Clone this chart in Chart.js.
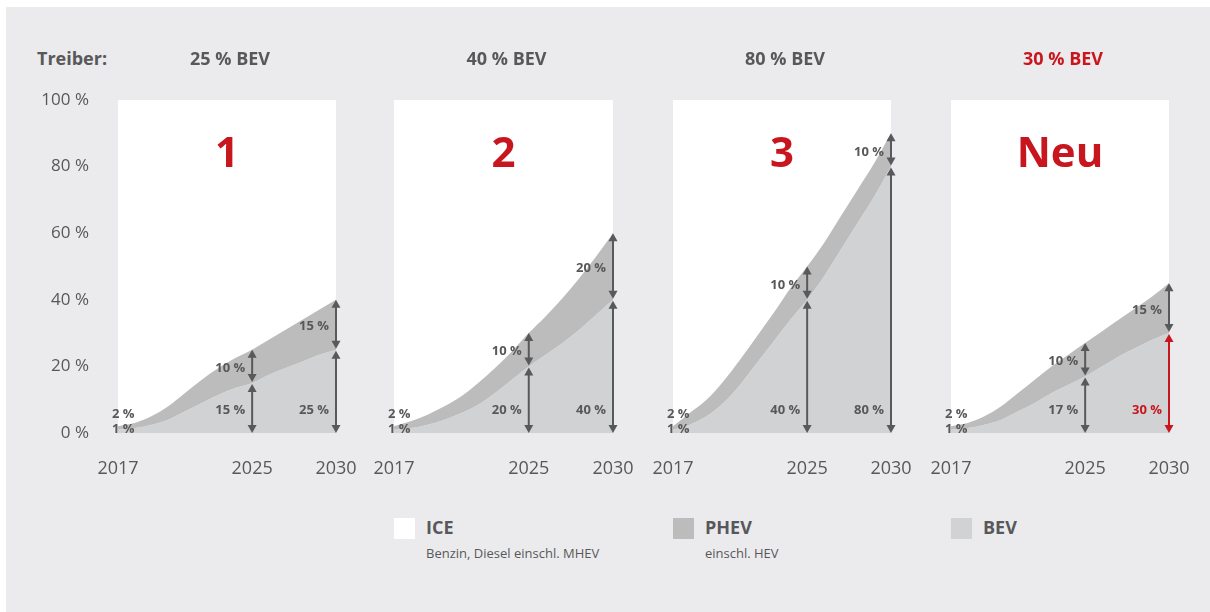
<!DOCTYPE html>
<html lang="de">
<head>
<meta charset="UTF-8">
<title>Szenarien BEV / PHEV / ICE</title>
<script src="https://cdn.jsdelivr.net/npm/chart.js"></script>
<style>
    body {
        margin: 0;
        width: 1210px;
        height: 612px;
        background: #fff;
        font-family: 'Open Sans', sans-serif;
        color: #58585a;
        position: relative;
        overflow: hidden;
    }
    #wrap {
        position: absolute;
        left: 6px; top: 7px;
        width: 1204px; height: 605px;
        background: #ebebed;
    }
    canvas { position: absolute; top: 30px; }
    .treiber {
        position: absolute; left: 37px; top: 46px;
        font-size: 18px; font-weight: 700; line-height: 24px;
    }
    .leg { position: absolute; top: 518px; }
    .leg .sq { position: absolute; left: 0; top: 0; width: 21px; height: 21px; }
    .leg .name { position: absolute; left: 32px; top: -3px; font-size: 18px; font-weight: 700; line-height: 24px; white-space: nowrap; }
    .leg .sub { position: absolute; left: 32px; top: 26px; font-size: 13px; line-height: 18px; white-space: nowrap; }
</style>
</head>
<body>
<div id="wrap"></div>
<div class="treiber">Treiber:</div>

<canvas id="c1" width="346" height="460" style="left:20px"></canvas>
<canvas id="c2" width="279" height="460" style="left:364px"></canvas>
<canvas id="c3" width="278" height="460" style="left:643px"></canvas>
<canvas id="c4" width="278" height="460" style="left:921px"></canvas>

<div class="leg" style="left:394px"><div class="sq" style="background:#ffffff"></div><div class="name">ICE</div><div class="sub">Benzin, Diesel einschl. MHEV</div></div>
<div class="leg" style="left:673px"><div class="sq" style="background:#bbbcbb"></div><div class="name">PHEV</div><div class="sub">einschl. HEV</div></div>
<div class="leg" style="left:951px"><div class="sq" style="background:#d1d2d4"></div><div class="name">BEV</div></div>

<script>
// years on the x axis, and which of them get a label
const years = [2017, 2018, 2019, 2020, 2021, 2022, 2023, 2024, 2025, 2026, 2027, 2028, 2029, 2030];
const tickYears = [2017, 2025, 2030];
const markYears = [2025, 2030];

// scenario headers
const scenarioTitles = ['25 % BEV', '40 % BEV', '80 % BEV', '30 % BEV'];
const scenarioNames = ['1', '2', '3', 'Neu'];

// shares in % per year
const bev1  = [1, 1.5, 2.5, 4, 6.5, 9, 11.5, 13.5, 15, 17.5, 19.5, 21.5, 23.5, 25];
const phev1 = [1, 1.5, 2.5, 4, 5.5, 7, 8, 9, 10, 10.5, 11.5, 12.5, 13.5, 15];

const bev2  = [1, 1.5, 2.5, 4, 6, 8.5, 12, 16, 20, 23.5, 27, 31, 35.5, 40];
const phev2 = [1, 2, 3, 4, 5, 6.5, 7.5, 8.5, 10, 11.5, 13.5, 15.5, 17.5, 20];

const bev3  = [1, 2.5, 5, 9, 14.5, 21, 27.5, 34, 40, 47, 55, 63, 71, 80];
const phev3 = [1, 3.5, 5, 6.5, 7.5, 8, 8.5, 9.5, 10, 10, 10, 10, 10, 10];

const bev4  = [1, 1.5, 2.5, 4, 6.5, 9, 12, 14.5, 17, 20, 23, 25.5, 28, 30];
const phev4 = [1, 1.5, 2.5, 4, 5.5, 7, 8, 9, 10, 10.5, 11, 12, 13, 15];

const bevSets = [bev1, bev2, bev3, bev4];
const phevSets = [phev1, phev2, phev3, phev4];

const RED = '#c8161e';
const TEXT = '#58585a';
const ARROW = '#58595b';
const FONT = "'Open Sans', sans-serif";

function arrow(ctx, x, yBottom, yTop, color) {
    const h = 8, w = 4.5;
    ctx.strokeStyle = color;
    ctx.fillStyle = color;
    ctx.lineWidth = 2;
    ctx.beginPath();
    ctx.moveTo(x, yBottom - h + 1);
    ctx.lineTo(x, yTop + h - 1);
    ctx.stroke();
    ctx.beginPath();
    ctx.moveTo(x, yTop); ctx.lineTo(x - w, yTop + h); ctx.lineTo(x + w, yTop + h);
    ctx.closePath(); ctx.fill();
    ctx.beginPath();
    ctx.moveTo(x, yBottom); ctx.lineTo(x - w, yBottom - h); ctx.lineTo(x + w, yBottom - h);
    ctx.closePath(); ctx.fill();
}

const marks = {
    id: 'marks',
    afterDraw(chart, args, opts) {
        const ctx = chart.ctx;
        const area = chart.chartArea;
        const xs = chart.scales.x, ys = chart.scales.y;
        const bev = chart.data.datasets[0].data;
        const phev = chart.data.datasets[1].data;
        const cx = (area.left + area.right) / 2;
        ctx.save();

        // header above panel
        ctx.textAlign = 'center';
        ctx.textBaseline = 'middle';
        ctx.font = '700 18px ' + FONT;
        ctx.fillStyle = opts.red ? RED : TEXT;
        ctx.fillText(opts.title, cx + 3, 30);

        // big scenario name
        ctx.font = '700 42px ' + FONT;
        ctx.fillStyle = RED;
        ctx.fillText(opts.name, cx, 125);

        // start values at 2017
        ctx.font = '700 13px ' + FONT;
        ctx.fillStyle = TEXT;
        ctx.textAlign = 'left';
        ctx.fillText(bev[0] + phev[0] + ' %', area.left - 6, ys.getPixelForValue(0) - 19);
        ctx.fillText(bev[0] + ' %', area.left - 6, ys.getPixelForValue(0) - 4);

        // arrows at 2025 / 2030
        ctx.textAlign = 'right';
        markYears.forEach((yr, k) => {
            const i = years.indexOf(yr);
            const x = xs.getPixelForValue(i);
            const y0 = ys.getPixelForValue(0);
            const y1 = ys.getPixelForValue(bev[i]);
            const y2 = ys.getPixelForValue(bev[i] + phev[i]);
            const lowColor = (opts.red && k === markYears.length - 1) ? RED : ARROW;
            arrow(ctx, x, y0, y1 + 1, lowColor);
            arrow(ctx, x, y1 - 1, y2, ARROW);
            ctx.font = '700 13px ' + FONT;
            ctx.fillStyle = lowColor === RED ? RED : TEXT;
            ctx.fillText(bev[i] + ' %', x - 7, y0 - 23);
            ctx.fillStyle = TEXT;
            ctx.fillText(phev[i] + ' %', x - 7, (y1 + y2) / 2 + 2);
        });
        ctx.restore();
    }
};

function makeChart(n) {
    const bev = bevSets[n], phev = phevSets[n];
    const ice = bev.map((v, i) => 100 - v - phev[i]);
    const first = n === 0;
    new Chart(document.getElementById('c' + (n + 1)), {
        type: 'line',
        data: {
            labels: years,
            datasets: [
                { label: 'BEV', data: bev, backgroundColor: '#d1d2d4', fill: 'origin' },
                { label: 'PHEV', data: phev, backgroundColor: '#bbbcbb', fill: '-1' },
                { label: 'ICE', data: ice, backgroundColor: '#ffffff', fill: '-1' }
            ]
        },
        options: {
            responsive: false,
            animation: false,
            events: [],
            layout: { autoPadding: false, padding: { left: first ? 0 : 30, right: 30, top: 70, bottom: 0 } },
            elements: {
                point: { radius: 0 },
                line: { borderWidth: 0, borderColor: 'rgba(0,0,0,0)', cubicInterpolationMode: 'monotone' }
            },
            plugins: {
                legend: { display: false },
                tooltip: { enabled: false },
                marks: { title: scenarioTitles[n], name: scenarioNames[n], red: n === 3 }
            },
            scales: {
                x: {
                    offset: false,
                    grid: { display: false, drawTicks: false },
                    border: { display: false },
                    ticks: {
                        autoSkip: false, maxRotation: 0, padding: 25,
                        color: TEXT, font: { family: FONT, size: 18 },
                        callback: (v, i) => tickYears.includes(years[i]) ? String(years[i]) : ''
                    },
                    afterFit: s => { s.height = 57; s.paddingLeft = 0; s.paddingRight = 0; }
                },
                y: {
                    display: first,
                    stacked: true,
                    min: 0, max: 100,
                    grid: { display: false, drawTicks: false },
                    border: { display: false },
                    ticks: {
                        stepSize: 20, padding: 29,
                        color: TEXT, font: { family: FONT, size: 17 },
                        callback: v => v + ' %'
                    },
                    afterFit: s => { if (first) { s.width = 98; } s.paddingTop = 0; s.paddingBottom = 0; }
                }
            }
        },
        plugins: [marks]
    });
}

[0, 1, 2, 3].forEach(makeChart);
</script>
</body>
</html>
